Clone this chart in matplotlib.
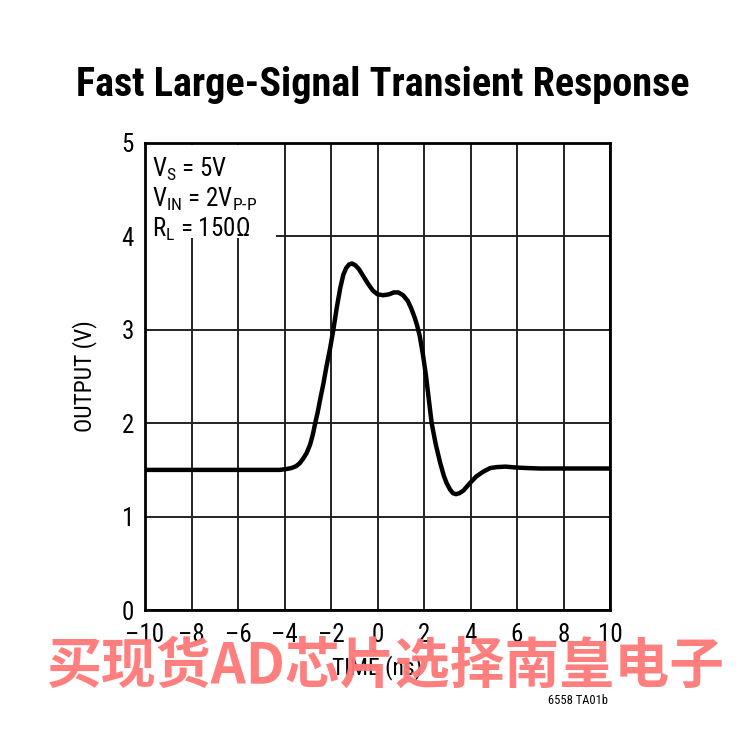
import matplotlib
matplotlib.use("Agg")
import matplotlib.pyplot as plt
from matplotlib import font_manager

# ---- data ----
time_ns = [-10.0, -8.0, -6.0, -4.6, -4.2, -3.9, -3.7, -3.5, -3.35, -3.2, -3.05, -2.9,
           -2.78, -2.68, -2.57, -2.47, -2.33, -2.2, -2.04, -1.9, -1.75, -1.6, -1.47,
           -1.35, -1.22, -1.1, -0.95, -0.8, -0.6, -0.4, -0.2, 0.0, 0.25, 0.5, 0.7,
           0.9, 1.1, 1.3, 1.45, 1.6, 1.7, 1.82, 1.95, 2.08, 2.2, 2.33, 2.5, 2.69,
           2.85, 2.97, 3.12, 3.25, 3.38, 3.52, 3.7, 3.98, 4.25, 4.54, 4.85, 5.13,
           5.5, 6.0, 6.41, 7.0, 8.0, 9.0, 10.0]
output_v = [1.50, 1.50, 1.50, 1.50, 1.50, 1.51, 1.52, 1.54, 1.57, 1.62, 1.68, 1.77,
            1.88, 2.00, 2.12, 2.25, 2.42, 2.60, 2.80, 3.00, 3.24, 3.45, 3.59,
            3.66, 3.70, 3.71, 3.69, 3.65, 3.57, 3.49, 3.42, 3.38, 3.37, 3.38, 3.40,
            3.40, 3.37, 3.31, 3.23, 3.13, 3.05, 2.93, 2.74, 2.52, 2.27, 2.00, 1.78, 1.58,
            1.44, 1.36, 1.29, 1.25, 1.24, 1.25, 1.28, 1.36, 1.43, 1.48, 1.52, 1.53,
            1.535, 1.525, 1.52, 1.515, 1.515, 1.515, 1.515]

x_ticks = [-10, -8, -6, -4, -2, 0, 2, 4, 6, 8, 10]
y_ticks = [0, 1, 2, 3, 4, 5]

title = "Fast Large-Signal Transient Response"
x_label = "TIME (ns)"
y_label = "OUTPUT (V)"
conditions = ["V$_\\text{S}$ = 5V",
              "V$_\\text{IN}$ = 2V$_\\text{P-P}$",
              "R$_\\text{L}$ = 150Ω"]
watermark = "买现货AD芯片选择南皇电子"
part_code = "6558 TA01b"

# ---- fonts ----
avail = {f.name for f in font_manager.fontManager.ttflist}
def pick(cands):
    for c in cands:
        if c in avail:
            return c
    return "DejaVu Sans"
narrow = pick(["Liberation Sans Narrow", "Arial Narrow", "Roboto Condensed", "Liberation Sans"])
plt.rcParams['font.family'] = [narrow, 'DejaVu Sans']
plt.rcParams['mathtext.fontset'] = 'custom'
plt.rcParams['mathtext.rm'] = narrow
plt.rcParams['mathtext.it'] = narrow
plt.rcParams['mathtext.bf'] = narrow

fig = plt.figure(figsize=(7.42, 7.42), dpi=100)
ax = fig.add_axes([145/742, 1-610/742, 465/742, 467/742])

ax.set_xlim(-10, 10)
ax.set_ylim(0, 5)
ax.set_xticks(x_ticks)
ax.set_yticks(y_ticks)
ax.set_xticklabels([("\u2013" + str(abs(t))) if t < 0 else str(t) for t in x_ticks])
ax.grid(True, color="#222222", linewidth=1.4)
ax.set_axisbelow(True)
ax.tick_params(length=0, labelsize=18)
ax.tick_params(axis="x", pad=9)
ax.tick_params(axis="y", pad=8)
for s in ax.spines.values():
    s.set_linewidth(2.0)
    s.set_color("black")

ax.plot(time_ns, output_v, color="black", linewidth=3.2, solid_joinstyle="round",
        solid_capstyle="round", zorder=3)

ax.set_xlabel(x_label, fontsize=17, labelpad=6)
ax.set_ylabel(y_label, fontsize=17, labelpad=18)

# condition box
ax.add_patch(plt.Rectangle((-9.95, 3.98), 5.6, 1.0, facecolor="white",
                           edgecolor="none", zorder=2, transform=ax.transData))
for i, line in enumerate(conditions):
    ax.text(-9.7, 4.72 - i * 0.32, line, fontsize=18, va="center", ha="left", zorder=4)

fig.text(383/742, 1-85/742, title, fontsize=29, fontweight="bold", ha="center", va="center")
fig.text(578/742, 1-700/742, part_code, fontsize=9, ha="center", va="center")
fig.text(386/742, 1-666/742, watermark, fontsize=39.5, fontweight="bold", color="#ff7878",
         alpha=0.95, ha="center", va="center",
         family=["Noto Sans CJK SC", "DejaVu Sans"], zorder=10)

fig.savefig("out.png", dpi=100)
